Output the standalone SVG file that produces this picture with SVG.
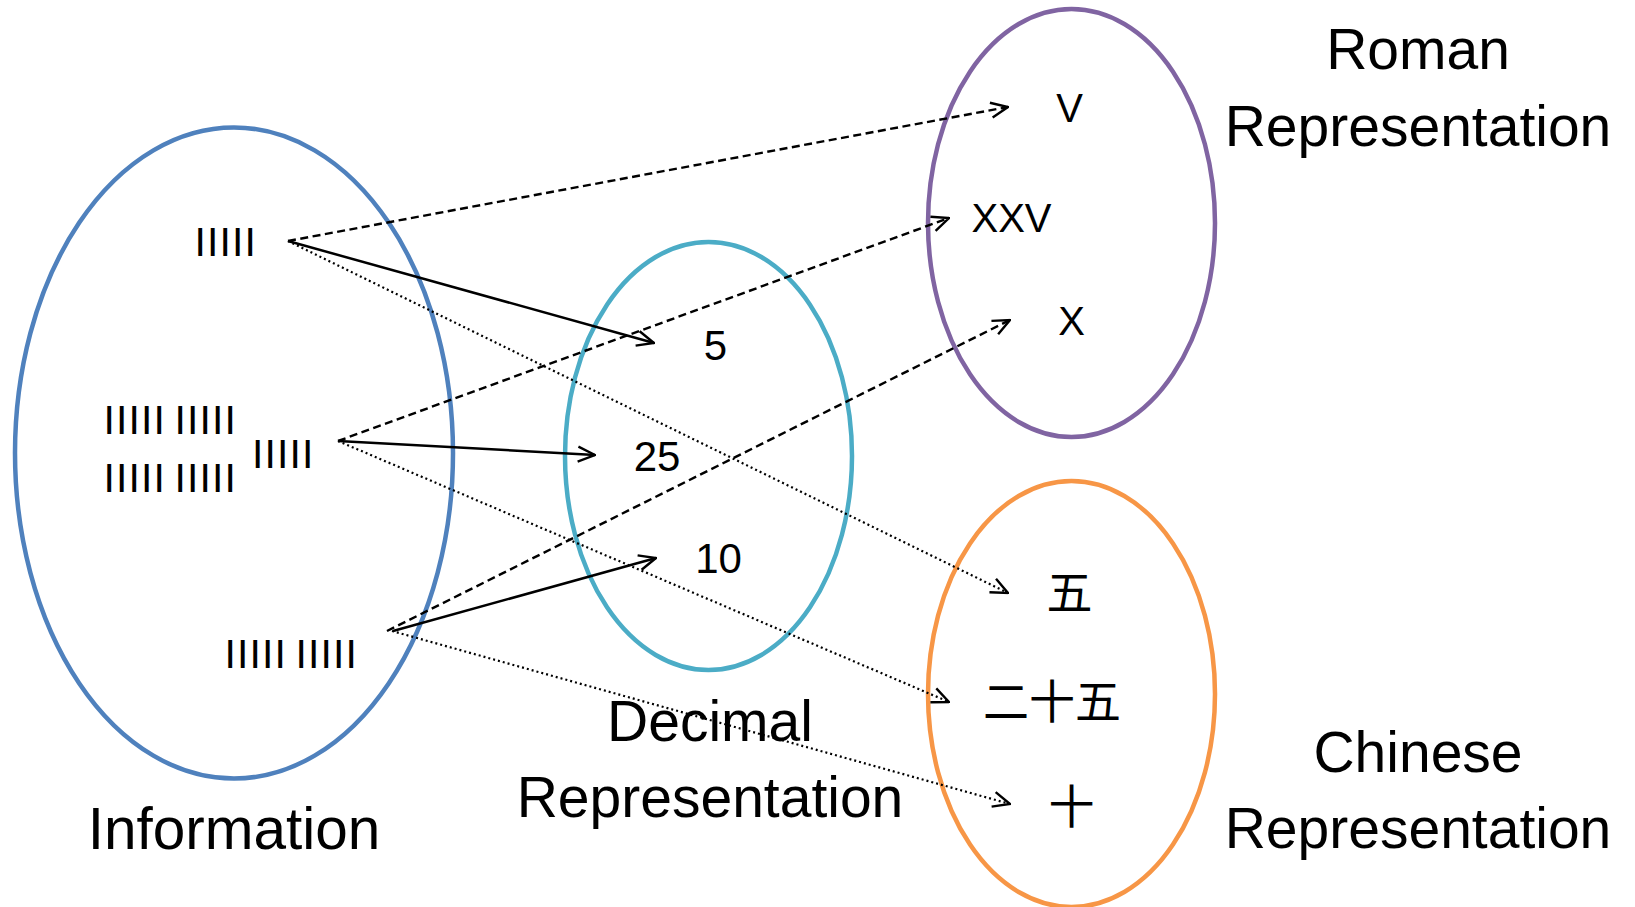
<svg xmlns="http://www.w3.org/2000/svg" width="1635" height="907" viewBox="0 0 1635 907">
  <style>
    .ell { fill: none; stroke-width: 4.5; }
    .lbl { font-family: "Liberation Sans", Arial, sans-serif; font-size: 57px; fill: #000; text-anchor: middle; }
    .item { font-family: "Liberation Sans", Arial, sans-serif; font-size: 40px; fill: #000; text-anchor: middle; }
    .num { font-family: "Liberation Sans", Arial, sans-serif; font-size: 42px; fill: #000; text-anchor: middle; }
    .cjk { font-family: "Liberation Sans", "Noto Sans CJK SC", sans-serif; font-size: 46px; fill: #000; text-anchor: middle; }
    .tally { font-family: "Liberation Sans", Arial, sans-serif; font-size: 41px; fill: #000; letter-spacing: 1.1px; word-spacing: -4px; }
    .conn { fill: none; stroke: #000; marker-end: url(#arr); }
    .solid { stroke-width: 2.5; }
    .dashed { stroke-width: 2.4; stroke-dasharray: 8 4.5; }
    .dotted { stroke-width: 2.2; stroke-dasharray: 2 3; }
  </style>
  <defs>
    <marker id="arr" markerUnits="userSpaceOnUse" viewBox="0 0 20 20" markerWidth="20" markerHeight="20" refX="19" refY="10" orient="auto">
      <path d="M2,2.5 L19,10 L2,17.5" fill="none" stroke="#000" stroke-width="2.4"/>
    </marker>
  </defs>
  <rect width="1635" height="907" fill="#fff"/>

  <g id="information">
    <ellipse class="ell" cx="234" cy="453" rx="219" ry="325.5" stroke="#4F81BD"/>
    <text class="tally" x="194.5" y="256">IIIII</text>
    <text class="tally" x="103.5" y="434">IIIII IIIII</text>
    <text class="tally" x="103.5" y="492">IIIII IIIII</text>
    <text class="tally" x="252" y="468">IIIII</text>
    <text class="tally" x="224.5" y="668">IIIII IIIII</text>
    <text class="lbl" x="234" y="849" style="font-size:58.5px">Information</text>
  </g>

  <g id="decimal">
    <ellipse class="ell" cx="708.5" cy="456" rx="143.5" ry="214" stroke="#4BACC6"/>
    <text class="num" x="715.5" y="360">5</text>
    <text class="num" x="657" y="471">25</text>
    <text class="num" x="718.5" y="573">10</text>
    <text class="lbl" x="710" y="741">Decimal</text>
    <text class="lbl" x="710" y="817">Representation</text>
  </g>

  <g id="roman">
    <ellipse class="ell" cx="1071.5" cy="223" rx="143.5" ry="214" stroke="#8064A2"/>
    <text class="item" x="1069.5" y="122">V</text>
    <text class="item" x="1011.5" y="232">XXV</text>
    <text class="item" x="1071.5" y="335">X</text>
    <text class="lbl" x="1418" y="69">Roman</text>
    <text class="lbl" x="1418" y="146">Representation</text>
  </g>

  <g id="chinese">
    <ellipse class="ell" cx="1071.5" cy="694" rx="143.5" ry="213" stroke="#F79646"/>
    <text class="cjk" x="1069.5" y="609">五</text>
    <text class="cjk" x="1052" y="718">二十五</text>
    <text class="cjk" x="1071.5" y="823">十</text>
    <text class="lbl" x="1418" y="772">Chinese</text>
    <text class="lbl" x="1418" y="848">Representation</text>
  </g>

  <g id="connectors">
    <line class="conn dashed" x1="288" y1="241" x2="1008" y2="107"/>
    <line class="conn solid" x1="288" y1="241" x2="654" y2="343"/>
    <line class="conn dotted" x1="288" y1="241" x2="1008" y2="593"/>
    <line class="conn dashed" x1="338" y1="441" x2="949" y2="218"/>
    <line class="conn solid" x1="338" y1="441" x2="595" y2="455"/>
    <line class="conn dotted" x1="338" y1="441" x2="949" y2="702"/>
    <line class="conn dashed" x1="387" y1="631" x2="1010" y2="320"/>
    <line class="conn solid" x1="393" y1="631" x2="656" y2="558"/>
    <line class="conn dotted" x1="392" y1="631" x2="1010" y2="804"/>
  </g>
</svg>
